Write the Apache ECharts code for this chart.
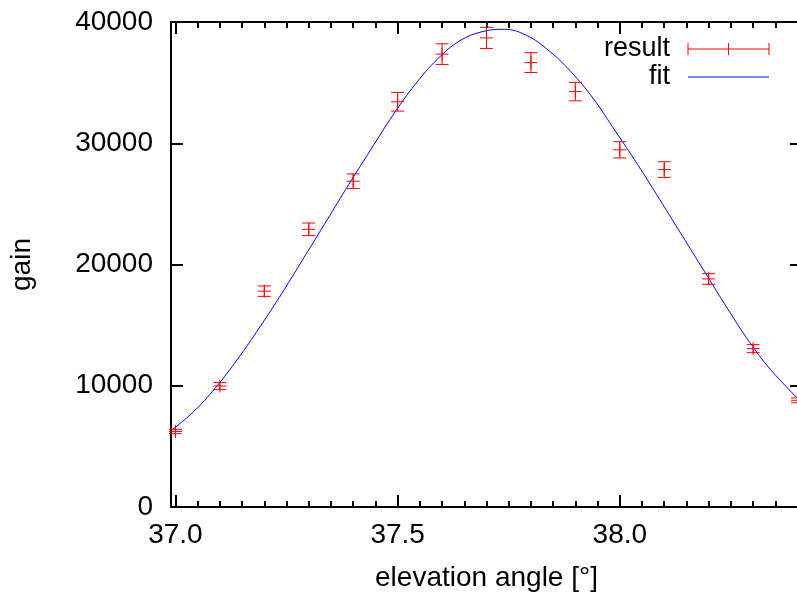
<!DOCTYPE html>
<html>
<head>
<meta charset="utf-8">
<script src="https://cdn.jsdelivr.net/npm/echarts@6.0.0/dist/echarts.min.js"></script>
<style>
  html, body { margin: 0; padding: 0; background: #ffffff; }
  #chart { width: 797px; height: 596px; }
</style>
</head>
<body>
<div id="chart"></div>
<script>
// ---- data ----
const elevation = [37.0, 37.1, 37.2, 37.3, 37.4, 37.5, 37.6, 37.7, 37.8, 37.9, 38.0, 38.1, 38.2, 38.3, 38.4];
const gain      = [6230, 9980, 17800, 22900, 26870, 33420, 37350, 38690, 36650, 34260, 29460, 27830, 18810, 13060, 8800];
const gainError = [180, 280, 430, 520, 600, 770, 850, 870, 820, 760, 670, 645, 440, 330, 200];

const fitElevation = [36.99, 37.04, 37.09, 37.14, 37.19, 37.24, 37.29, 37.34, 37.39, 37.44, 37.49, 37.54, 37.59, 37.64, 37.69, 37.74, 37.79, 37.84, 37.89, 37.94, 37.99, 38.04, 38.09, 38.14, 38.19, 38.24, 38.29, 38.34, 38.41];
const fitGain      = [6300, 7830, 9830, 12200, 14850, 17650, 20620, 23600, 26600, 29500, 32350, 34880, 36950, 38450, 39200, 39400, 38900, 37650, 35900, 33700, 31000, 28250, 25350, 22400, 19450, 16500, 13700, 11300, 8600];

const xMajorTicks = [37.0, 37.5, 38.0];
const xMinorTicks = [37.05, 37.1, 37.15, 37.2, 37.25, 37.3, 37.35, 37.4, 37.45, 37.55, 37.6, 37.65, 37.7, 37.75, 37.8, 37.85, 37.9, 37.95, 38.05, 38.1, 38.15, 38.2, 38.25, 38.3, 38.35, 38.4];
const yTickValues = [0, 10000, 20000, 30000, 40000];

const xMin = 36.99, xMax = 38.41;
const yMin = 0, yMax = 40000, yStep = 10000;

const FONT = 'Liberation Sans, Arial, Helvetica, sans-serif';
const FS = 28;
const FS_LEGEND = 27;

const resultData = elevation.map((x, i) => [x, gain[i], gainError[i]]);
const fitData = fitElevation.map((x, i) => [x, fitGain[i]]);

const chart = echarts.init(document.getElementById('chart'), null, { renderer: 'canvas' });

function xAxisCfg(pos, ticks, len, showLine, showLabel, extra) {
  return Object.assign({
    type: 'value', position: pos, min: xMin, max: xMax,
    axisLine: { show: showLine, onZero: false, lineStyle: { color: '#000', width: 2 } },
    axisTick: { show: true, inside: true, length: len, customValues: ticks, lineStyle: { color: '#000', width: 2 } },
    axisLabel: showLabel ? {
      show: true, customValues: ticks, formatter: v => Number(v).toFixed(1),
      color: '#000', fontSize: FS, fontFamily: FONT, margin: 14
    } : { show: false },
    splitLine: { show: false }
  }, extra || {});
}

const option = {
  animation: false,
  backgroundColor: '#ffffff',
  textStyle: { fontFamily: FONT },
  grid: { left: 171, top: 22, width: 631, height: 485, containLabel: false, outerBoundsMode: 'none' },
  xAxis: [
    xAxisCfg('bottom', xMajorTicks, 12, true, true, {
      name: 'elevation angle [°]', nameLocation: 'middle', nameGap: 57,
      nameTextStyle: { color: '#000', fontSize: FS, fontFamily: FONT }
    }),
    xAxisCfg('bottom', xMinorTicks, 6, false, false),
    xAxisCfg('top', xMajorTicks, 12, true, false),
    xAxisCfg('top', xMinorTicks, 6, false, false)
  ],
  yAxis: [
    {
      type: 'value', position: 'left', min: yMin, max: yMax, interval: yStep,
      axisLine: { show: true, onZero: false, lineStyle: { color: '#000', width: 2 } },
      axisTick: { show: true, inside: true, length: 12, customValues: yTickValues, lineStyle: { color: '#000', width: 2 } },
      axisLabel: { color: '#000', fontSize: FS, fontFamily: FONT, margin: 18, customValues: yTickValues,
                   formatter: v => String(v), padding: [4, 0, 0, 0] },
      splitLine: { show: false },
      name: 'gain', nameLocation: 'middle', nameGap: 135, nameRotate: 90,
      nameTextStyle: { color: '#000', fontSize: FS, fontFamily: FONT }
    },
    {
      type: 'value', position: 'right', min: yMin, max: yMax, interval: yStep,
      axisLine: { show: true, onZero: false, lineStyle: { color: '#000', width: 2 } },
      axisTick: { show: true, inside: true, length: 12, customValues: yTickValues, lineStyle: { color: '#000', width: 2 } },
      axisLabel: { show: false },
      splitLine: { show: false }
    }
  ],
  series: [
    {
      name: 'fit', type: 'line', xAxisIndex: 0, yAxisIndex: 0,
      data: fitData, smooth: 0.4, showSymbol: false, symbol: 'none',
      lineStyle: { color: '#0000ff', width: 1 }, z: 3
    },
    {
      name: 'result', type: 'custom', xAxisIndex: 0, yAxisIndex: 0,
      data: resultData, encode: { x: 0, y: 1 }, z: 4,
      renderItem: function (params, api) {
        const x = api.value(0), y = api.value(1), e = api.value(2);
        const c = api.coord([x, y]);
        const t = api.coord([x, y + e]);
        const b = api.coord([x, y - e]);
        const w = 6.5;
        const st = { stroke: '#ff0000', lineWidth: 1, fill: null };
        return {
          type: 'group',
          children: [
            { type: 'line', shape: { x1: c[0], y1: t[1], x2: c[0], y2: b[1] }, style: st },
            { type: 'line', shape: { x1: c[0] - w, y1: t[1], x2: c[0] + w, y2: t[1] }, style: st },
            { type: 'line', shape: { x1: c[0] - w, y1: b[1], x2: c[0] + w, y2: b[1] }, style: st },
            { type: 'line', shape: { x1: c[0] - w, y1: c[1], x2: c[0] + w, y2: c[1] }, style: st },
            { type: 'line', shape: { x1: c[0], y1: c[1] - w, x2: c[0], y2: c[1] + w }, style: st }
          ]
        };
      }
    }
  ],
  graphic: [
    { type: 'text', x: 670, y: 49,
      style: { text: 'result', fill: '#000', font: FS_LEGEND + 'px ' + FONT, textAlign: 'right', textVerticalAlign: 'middle' } },
    { type: 'line', shape: { x1: 688, y1: 49, x2: 769, y2: 49 }, style: { stroke: '#ff0000', lineWidth: 1 } },
    { type: 'line', shape: { x1: 688, y1: 43, x2: 688, y2: 55 }, style: { stroke: '#ff0000', lineWidth: 1 } },
    { type: 'line', shape: { x1: 769, y1: 43, x2: 769, y2: 55 }, style: { stroke: '#ff0000', lineWidth: 1 } },
    { type: 'line', shape: { x1: 728.5, y1: 43, x2: 728.5, y2: 55 }, style: { stroke: '#ff0000', lineWidth: 1 } },
    { type: 'text', x: 670, y: 77,
      style: { text: 'fit', fill: '#000', font: FS_LEGEND + 'px ' + FONT, textAlign: 'right', textVerticalAlign: 'middle' } },
    { type: 'line', shape: { x1: 688, y1: 77, x2: 769, y2: 77 }, style: { stroke: '#0000ff', lineWidth: 1 } }
  ]
};

chart.setOption(option);
</script>
</body>
</html>
